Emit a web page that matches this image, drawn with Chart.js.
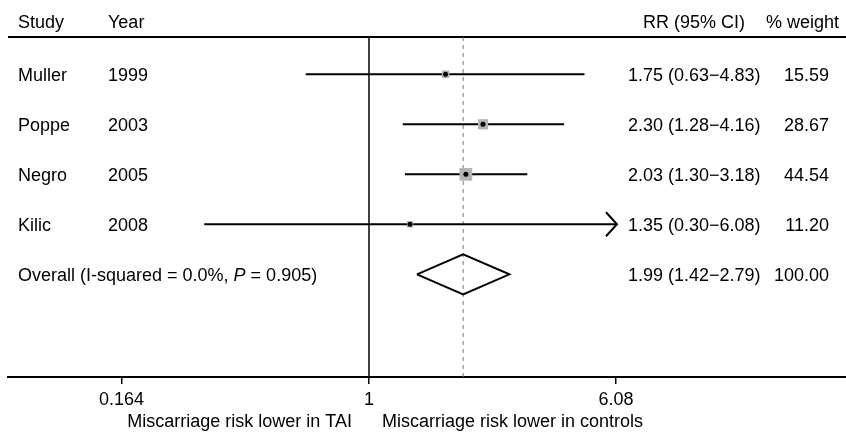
<!DOCTYPE html>
<html>
<head>
<meta charset="utf-8">
<script src="https://cdn.jsdelivr.net/npm/chart.js@4.4.0/dist/chart.umd.min.js"></script>
<style>
  html, body { margin: 0; padding: 0; background: #fff; }
  #forest { display: block; }
</style>
</head>
<body>
<canvas id="forest" width="846" height="437"></canvas>
<script>
// Données
const studies = ["Muller", "Poppe", "Negro", "Kilic"];
const years = ["1999", "2003", "2005", "2008"];
const rr = [1.75, 2.30, 2.03, 1.35];
const ciLow = [0.63, 1.28, 1.30, 0.30];
const ciHigh = [4.83, 4.16, 3.18, 6.08];
const weights = [15.59, 28.67, 44.54, 11.20];

const overallRR = 1.99;
const overallLow = 1.42;
const overallHigh = 2.79;
const overallWeight = 100.00;
const overallLabel = ["Overall (I-squared = 0.0%, ", "P", " = 0.905)"];

const tickValues = [0.164, 1, 6.08];
const tickLabels = ["0.164", "1", "6.08"];
const xMin = 0.0715, xMax = 32.65;

const FONT = '18px "Liberation Sans", Arial, sans-serif';
const ITALIC = 'italic 18px "Liberation Sans", Arial, sans-serif';

const fmt = v => v.toFixed(2);
const rrText = (r, lo, hi) => `${fmt(r)} (${fmt(lo)}\u2212${fmt(hi)})`;

// Datasets (order bas = dessiné au-dessus)
const datasets = [];

// Lignes IC
studies.forEach((s, i) => {
    datasets.push({
        type: "line",
        order: 2,
        data: [{ x: ciLow[i], y: i }, { x: ciHigh[i], y: i }],
        borderColor: "#000",
        borderWidth: 2,
        pointRadius: 0,
        fill: false
    });
});

// Carrés (taille selon le poids)
datasets.push({
    type: "scatter",
    order: 1,
    data: rr.map((v, i) => ({ x: v, y: i })),
    pointStyle: "rect",
    pointRadius: weights.map(w => 1.9 * Math.sqrt(w) / Math.SQRT2),
    backgroundColor: "#b3b3b3",
    borderWidth: 0
});

// Points centraux
datasets.push({
    type: "scatter",
    order: 0,
    data: rr.map((v, i) => ({ x: v, y: i })),
    pointStyle: "circle",
    pointRadius: 2.5,
    backgroundColor: "#000",
    borderWidth: 0
});

// Losange global
const oy = studies.length;
datasets.push({
    type: "line",
    order: 1,
    data: [
        { x: overallLow, y: oy },
        { x: overallRR, y: oy - 0.4 },
        { x: overallHigh, y: oy },
        { x: overallRR, y: oy + 0.4 },
        { x: overallLow, y: oy }
    ],
    borderColor: "#000",
    borderWidth: 2,
    pointRadius: 0,
    tension: 0,
    fill: false
});

// Plugin : lignes de référence
const refLines = {
    id: "refLines",
    beforeDatasetsDraw(chart) {
        const { ctx, chartArea, scales } = chart;
        ctx.save();
        // ligne du haut
        ctx.strokeStyle = "#000";
        ctx.lineWidth = 2;
        ctx.beginPath();
        ctx.moveTo(chartArea.left, chartArea.top);
        ctx.lineTo(chartArea.right, chartArea.top);
        ctx.stroke();
        // ligne de non-effet
        const x1 = scales.x.getPixelForValue(1);
        ctx.lineWidth = 1.5;
        ctx.beginPath();
        ctx.moveTo(x1, chartArea.top);
        ctx.lineTo(x1, chartArea.bottom);
        ctx.stroke();
        // effet global en pointillés
        const xo = scales.x.getPixelForValue(overallRR);
        ctx.strokeStyle = "#777";
        ctx.lineWidth = 1;
        ctx.setLineDash([4, 4]);
        ctx.beginPath();
        ctx.moveTo(xo, chartArea.top);
        ctx.lineTo(xo, chartArea.bottom);
        ctx.stroke();
        ctx.restore();
    },
    afterDatasetsDraw(chart) {
        const { ctx, scales } = chart;
        // flèche pour Kilic (IC tronqué)
        const i = 3;
        const xa = scales.x.getPixelForValue(ciHigh[i]) + 1;
        const ya = scales.y.getPixelForValue(i);
        ctx.save();
        ctx.strokeStyle = "#000";
        ctx.lineWidth = 2;
        ctx.beginPath();
        ctx.moveTo(xa - 11, ya - 12);
        ctx.lineTo(xa, ya);
        ctx.lineTo(xa - 11, ya + 12);
        ctx.stroke();
        ctx.restore();
    }
};

// Plugin : textes
const textCols = {
    id: "textCols",
    afterDraw(chart) {
        const { ctx, scales } = chart;
        ctx.save();
        ctx.fillStyle = "#000";
        ctx.font = FONT;
        ctx.textBaseline = "middle";

        // en-têtes
        ctx.textAlign = "left";
        ctx.fillText("Study", 18, 23);
        ctx.fillText("Year", 108, 23);
        ctx.textAlign = "right";
        ctx.fillText("RR (95% CI)", 745, 23);
        ctx.fillText("% weight", 839, 23);

        // lignes d'études
        studies.forEach((s, i) => {
            const y = scales.y.getPixelForValue(i) + 2;
            ctx.textAlign = "left";
            ctx.fillText(s, 18, y);
            ctx.fillText(years[i], 108, y);
            ctx.fillText(rrText(rr[i], ciLow[i], ciHigh[i]), 628, y);
            ctx.textAlign = "right";
            ctx.fillText(fmt(weights[i]), 829, y);
        });

        // ligne globale
        const yo = scales.y.getPixelForValue(studies.length) + 2;
        ctx.textAlign = "left";
        let x = 18;
        overallLabel.forEach((part, k) => {
            ctx.font = k === 1 ? ITALIC : FONT;
            ctx.fillText(part, x, yo);
            x += ctx.measureText(part).width;
        });
        ctx.font = FONT;
        ctx.fillText(rrText(overallRR, overallLow, overallHigh), 628, yo);
        ctx.textAlign = "right";
        ctx.fillText(fmt(overallWeight), 829, yo);

        // légendes sous l'axe
        const x1 = scales.x.getPixelForValue(1);
        ctx.textAlign = "right";
        ctx.fillText("Miscarriage risk lower in TAI", x1 - 17, 422);
        ctx.textAlign = "left";
        ctx.fillText("Miscarriage risk lower in controls", x1 + 13, 422);
        ctx.restore();
    }
};

new Chart(document.getElementById("forest"), {
    data: { datasets },
    plugins: [refLines, textCols],
    options: {
        responsive: false,
        animation: false,
        layout: { autoPadding: false, padding: { left: 8, top: 37, right: 0, bottom: 0 } },
        plugins: { legend: { display: false }, tooltip: { enabled: false } },
        scales: {
            x: {
                type: "logarithmic",
                position: "bottom",
                min: xMin,
                max: xMax,
                afterBuildTicks: axis => { axis.ticks = tickValues.map(v => ({ value: v })); },
                afterFit: axis => { axis.height = 60; },
                ticks: {
                    autoSkip: false,
                    maxRotation: 0,
                    padding: 5,
                    color: "#000",
                    font: { family: '"Liberation Sans", Arial, sans-serif', size: 18 },
                    callback: (v) => {
                        const k = tickValues.indexOf(v);
                        return k >= 0 ? tickLabels[k] : "";
                    }
                },
                grid: { drawOnChartArea: false, drawTicks: true, tickLength: 7, color: "#000", lineWidth: 1.5 },
                border: { display: true, color: "#000", width: 2 }
            },
            y: {
                type: "linear",
                display: false,
                reverse: true,
                min: -0.746,
                max: 6.054
            }
        }
    }
});
</script>
</body>
</html>
